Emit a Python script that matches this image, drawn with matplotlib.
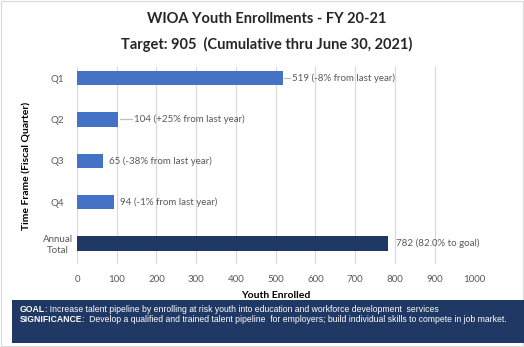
import matplotlib.pyplot as plt
from matplotlib.patches import Rectangle

categories = ["Q1", "Q2", "Q3", "Q4", "Annual\nTotal"]
enrolled = [519, 104, 65, 94, 782]
bar_labels = [
    "519 (-8% from last year)",
    "104 (+25% from last year)",
    "65 (-38% from last year)",
    "94 (-1% from last year)",
    "782 (82.0% to goal)",
]
x_ticks = [0, 100, 200, 300, 400, 500, 600, 700, 800, 900, 1000]

plt.rcParams["font.family"] = ["Lato", "DejaVu Sans"]

fig = plt.figure(figsize=(5.24, 3.47), dpi=100)
ax = fig.add_axes([0.147, 0.239, 0.758, 0.568])

colors = ["#4472C4"] * 4 + ["#203864"]
ypos = list(range(len(categories)))
ax.barh(ypos, enrolled, height=0.35, color=colors, zorder=3)

# labels, with short leader lines where the text sits further out
offsets = [22, 40, 15, 15, 20]
for y, v, lab, off in zip(ypos, enrolled, bar_labels, offsets):
    if off > 20:
        ax.plot([v + 3, v + off - 5], [y, y], color="#BFBFBF", lw=0.9, zorder=2)
    ax.text(v + off, y, lab, va="center", ha="left", fontsize=7, color="#595959")

ax.set_xlim(0, 1000)
ax.set_ylim(4.5, -0.27)
ax.set_xticks(x_ticks)
ax.set_yticks(ypos)
ax.set_yticklabels(categories, fontsize=7, color="#595959")
ax.tick_params(axis="x", labelsize=7, labelcolor="#595959", length=0, pad=8)
ax.tick_params(axis="y", length=0, pad=14)
for lab in ax.get_yticklabels():
    lab.set_horizontalalignment("center")
    lab.set_multialignment("center")
ax.grid(axis="x", color="#D9D9D9", lw=0.8, zorder=0)
for s in ax.spines.values():
    s.set_visible(False)

ax.set_xlabel("Youth Enrolled", fontsize=7.5, fontweight="bold", labelpad=5)
ax.set_ylabel("Time Frame (Fiscal Quarter)", fontsize=7.5, fontweight="bold", labelpad=8)

fig.text(0.508, 0.945, "WIOA Youth Enrollments - FY 20-21", ha="center", va="center",
         fontsize=10.5, fontweight="bold", color="#262626")
fig.text(0.508, 0.873, "Target: 905  (Cumulative thru June 30, 2021)", ha="center", va="center",
         fontsize=10.5, fontweight="bold", color="#262626")

# outer frame and goal box
fig.patches.append(Rectangle((0.002, 0.003), 0.996, 0.994, transform=fig.transFigure,
                             fill=False, edgecolor="#D9D9D9", lw=0.8))
fig.patches.append(Rectangle((12 / 524, 4 / 347), 1, 43 / 347, transform=fig.transFigure,
                             facecolor="#1F3864", edgecolor="none"))

goal_font = ["Liberation Sans", "DejaVu Sans"]
notes = [
    ("GOAL", ": Increase talent pipeline by enrolling at risk youth into education and workforce development  services"),
    ("SIGNIFICANCE", ":  Develop a qualified and trained talent pipeline  for employers; build individual skills to compete in job market."),
]
renderer = fig.canvas.get_renderer()
for i, (head, rest) in enumerate(notes):
    yy = 1 - (309 + 10.5 * i) / 347
    t = fig.text(20 / 524, yy, head, fontsize=6.2, fontweight="bold", color="white",
                 va="center", family=goal_font)
    bb = t.get_window_extent(renderer)
    fig.text(bb.x1 / fig.bbox.width, yy, rest, fontsize=6.2, color="white",
             va="center", family=goal_font)

fig.savefig("out.png", dpi=100)
